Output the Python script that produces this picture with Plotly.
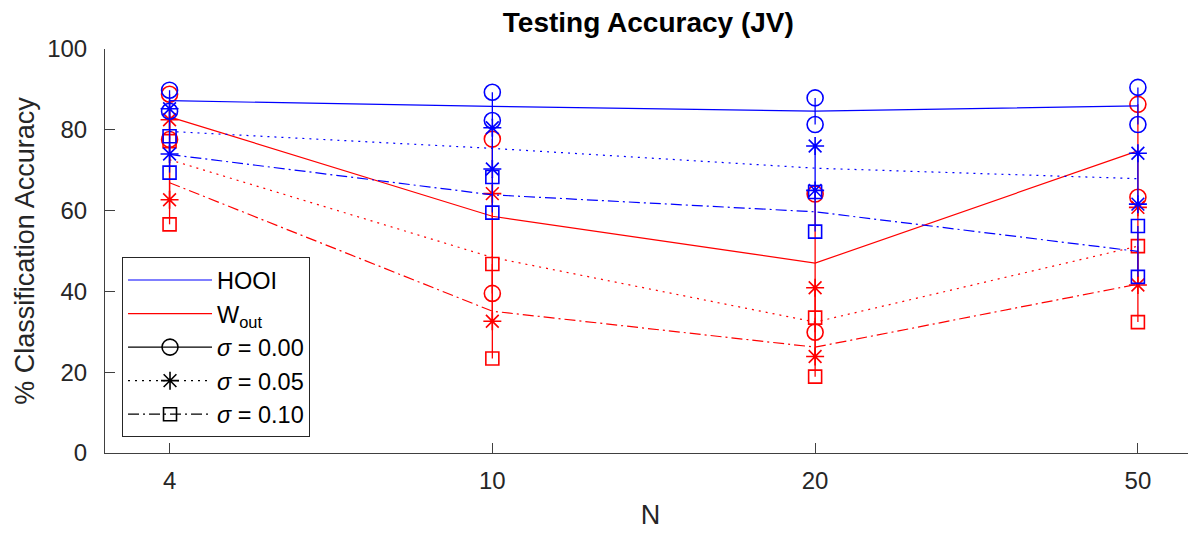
import plotly.graph_objects as go

N_labels = ["4", "10", "20", "50"]

hooi_s000_mean = [87.2, 85.8, 84.6, 85.9]
hooi_s000_err = [2.6, 3.5, 3.3, 4.6]
hooi_s005_mean = [79.6, 75.4, 70.5, 67.9]
hooi_s005_err = [5.6, 5.1, 5.5, 6.3]
hooi_s010_mean = [73.9, 63.9, 59.7, 49.9]
hooi_s010_err = [4.5, 4.4, 4.9, 6.3]

wout_s000_mean = [83.2, 58.6, 47.0, 74.8]
wout_s000_err = [5.6, 19.1, 17.1, 11.5]
wout_s005_mean = [72.6, 48.4, 32.4, 51.2]
wout_s005_err = [9.9, 15.8, 8.5, 9.6]
wout_s010_mean = [66.9, 35.1, 26.2, 41.8]
wout_s010_err = [10.3, 11.7, 7.3, 9.4]

BLUE = "#0000FF"
RED = "#FF0000"
DOT = "2px,5px"
DASHDOT = "11px,4px,2px,4px"

series = [
    (wout_s000_mean, wout_s000_err, RED, "solid", "circle-open", 16),
    (wout_s005_mean, wout_s005_err, RED, DOT, "asterisk-open", 15),
    (wout_s010_mean, wout_s010_err, RED, DASHDOT, "square-open", 13),
    (hooi_s000_mean, hooi_s000_err, BLUE, "solid", "circle-open", 16),
    (hooi_s005_mean, hooi_s005_err, BLUE, DOT, "asterisk-open", 15),
    (hooi_s010_mean, hooi_s010_err, BLUE, DASHDOT, "square-open", 13),
]

fig = go.Figure()

for mean, err, color, dash, sym, size in series:
    fig.add_trace(go.Scatter(
        x=N_labels, y=mean, mode="none",
        error_y=dict(type="data", array=err, visible=True, color=color,
                     thickness=1.3, width=0),
        showlegend=False, hoverinfo="skip"))
    fig.add_trace(go.Scatter(
        x=N_labels, y=mean, mode="lines",
        line=dict(color=color, width=1.2, dash=dash),
        showlegend=False))
    upper = [m + e for m, e in zip(mean, err)]
    lower = [m - e for m, e in zip(mean, err)]
    for ys in (upper, lower):
        fig.add_trace(go.Scatter(
            x=N_labels, y=ys, mode="markers",
            marker=dict(symbol=sym, size=size, color=color,
                        line=dict(color=color, width=1.6)),
            showlegend=False))

fig.add_trace(go.Scatter(x=[None], y=[None], mode="lines", name="HOOI",
                         line=dict(color=BLUE, width=1.2)))
fig.add_trace(go.Scatter(x=[None], y=[None], mode="lines", name="W<sub>out</sub>",
                         line=dict(color=RED, width=1.2)))
for label, dash, sym, size in [("0.00", "solid", "circle-open", 16),
                               ("0.05", DOT, "asterisk-open", 15),
                               ("0.10", DASHDOT, "square-open", 13)]:
    fig.add_trace(go.Scatter(
        x=[None], y=[None], mode="lines+markers",
        name="<i>σ</i> = " + label,
        line=dict(color="black", width=1.2, dash=dash),
        marker=dict(symbol=sym, size=size, color="black",
                    line=dict(color="black", width=1.6))))

AX = "#404040"
TXT = "#262626"
fig.update_layout(
    width=1188, height=525,
    margin=dict(l=97, r=0, t=41, b=80),
    paper_bgcolor="white", plot_bgcolor="white",
    font=dict(family="Liberation Sans, Arial, sans-serif", color=TXT),
    title=dict(text="<b>Testing Accuracy (JV)</b>", x=0.539, xanchor="center",
               y=0.973, yanchor="middle",
               font=dict(size=28, color="black")),
    xaxis=dict(type="category", categoryorder="array", categoryarray=N_labels,
               range=[-0.2, 3.18], showline=True, linecolor=AX, linewidth=1,
               ticks="inside", ticklen=10, tickcolor=AX, showgrid=False,
               zeroline=False, tickfont=dict(size=24, color=TXT),
               ticklabelstandoff=6,
               title=dict(text="N", font=dict(size=27, color=TXT), standoff=12)),
    yaxis=dict(range=[0, 100], tickvals=[0, 20, 40, 60, 80, 100],
               showline=True, linecolor=AX, linewidth=1,
               ticks="inside", ticklen=10, tickcolor=AX, showgrid=False,
               zeroline=False, tickfont=dict(size=24, color=TXT),
               ticklabelstandoff=12,
               title=dict(text="% Classification Accuracy",
                          font=dict(size=27, color=TXT), standoff=4)),
    legend=dict(x=0.0156, y=0.039, xanchor="left", yanchor="bottom",
                bgcolor="white", bordercolor=TXT, borderwidth=1,
                font=dict(size=23.5, color="black"), itemwidth=84,
                tracegroupgap=0),
)

fig.write_html("out.html")
